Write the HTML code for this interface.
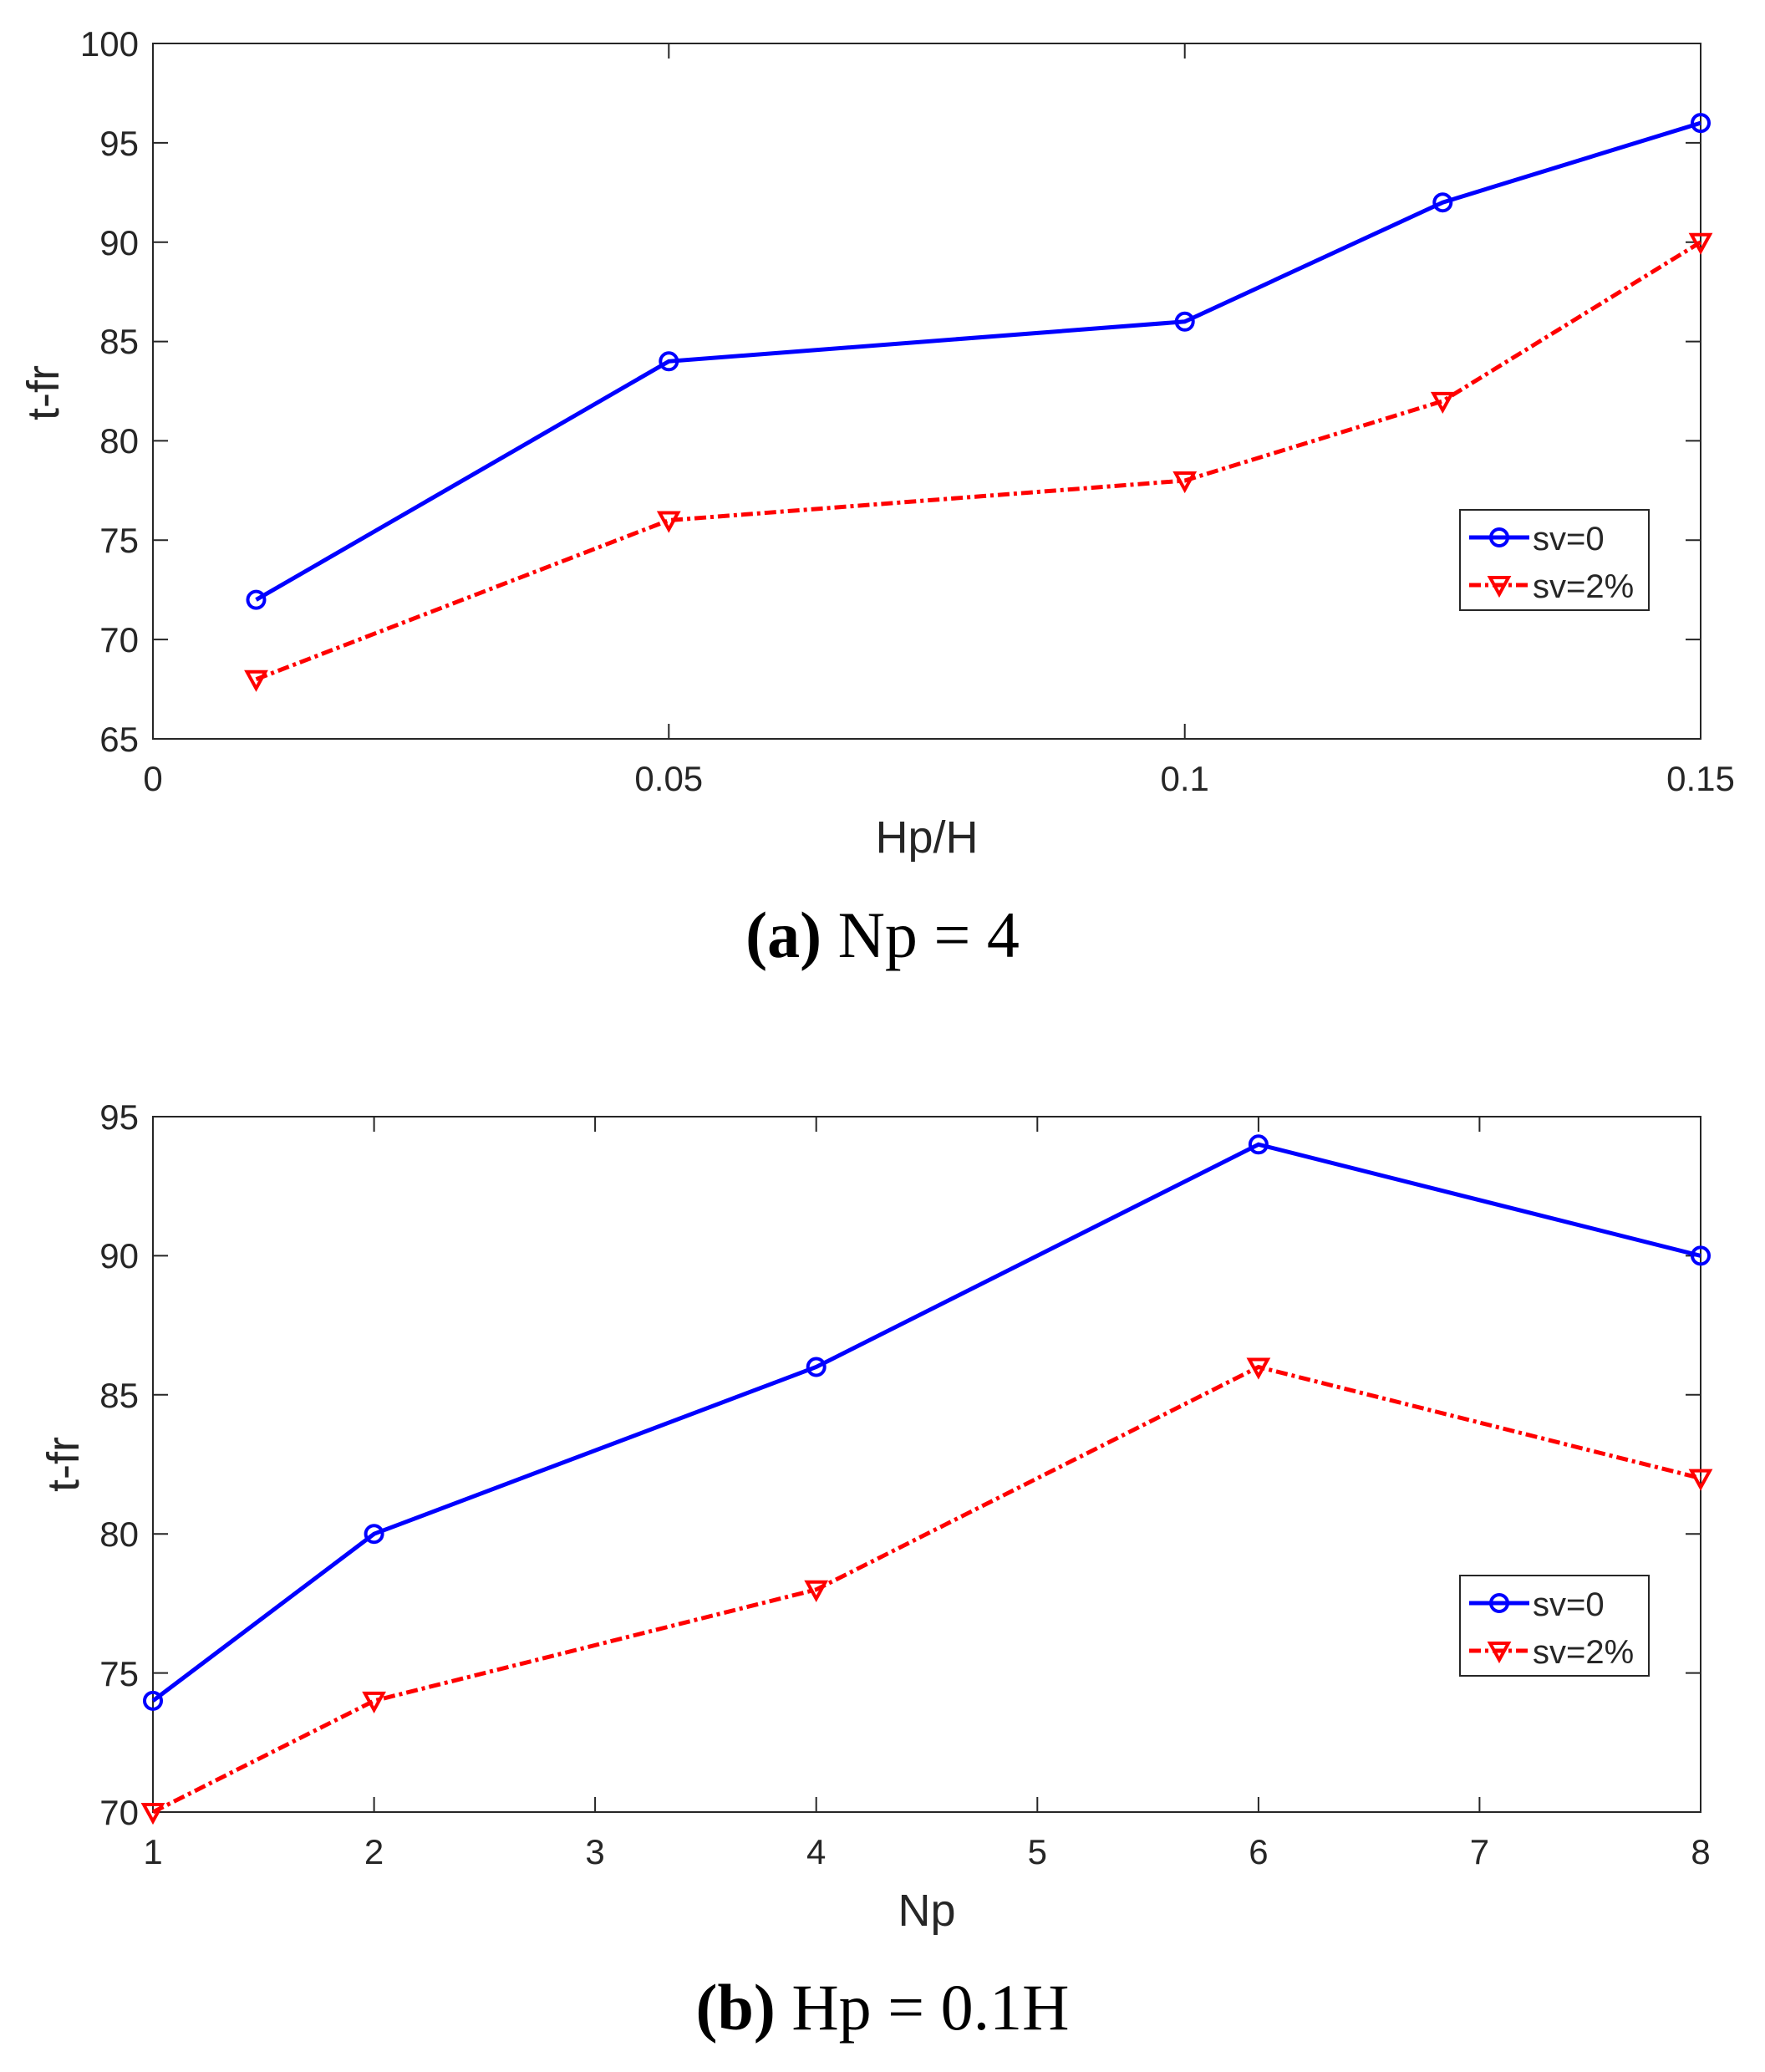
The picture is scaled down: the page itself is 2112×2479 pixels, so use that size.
<!DOCTYPE html>
<html><head><style>
html,body{margin:0;padding:0;background:#fff;}
svg{display:block;}
text{font-family:"Liberation Sans",sans-serif;fill:#262626;}
.t{font-size:42px;}
.cap{font-family:"Liberation Serif",serif;font-size:78px;fill:#000;}
</style></head><body>
<svg width="2112" height="2479" viewBox="0 0 2112 2479" xmlns="http://www.w3.org/2000/svg">
<defs>
<g id="c"><circle r="10" fill="none" stroke="#0000ff" stroke-width="4"/></g>
<g id="tr"><path d="M-11,-9 L11,-9 L0,11 Z" fill="none" stroke="#ff0000" stroke-width="4"/></g>
</defs>
<!-- TOP -->
<rect x="183" y="52" width="1852" height="832" fill="none" stroke="#262626" stroke-width="2"/>
<g stroke="#262626" stroke-width="2">
<path d="M183,765.1h18M183,646.3h18M183,527.4h18M183,408.6h18M183,289.7h18M183,170.9h18"/>
<path d="M2035,765.1h-18M2035,646.3h-18M2035,527.4h-18M2035,408.6h-18M2035,289.7h-18M2035,170.9h-18"/>
<path d="M800.3,884v-18M1417.7,884v-18M800.3,52v18M1417.7,52v18"/>
</g>
<g class="t" text-anchor="end">
<text x="166" y="899">65</text><text x="166" y="780">70</text><text x="166" y="661">75</text><text x="166" y="542">80</text><text x="166" y="423">85</text><text x="166" y="305">90</text><text x="166" y="186">95</text><text x="166" y="67">100</text>
</g>
<g class="t" text-anchor="middle">
<text x="183" y="946">0</text><text x="800.3" y="946">0.05</text><text x="1417.7" y="946">0.1</text><text x="2035" y="946">0.15</text>
</g>
<text x="1109" y="1020" font-size="54" text-anchor="middle">Hp/H</text>
<text transform="translate(70,470) rotate(-90)" font-size="54" text-anchor="middle">t-fr</text>
<polyline points="306.5,717.6 800.3,432.3 1417.7,384.8 1726.3,242.2 2035,147.1" fill="none" stroke="#0000ff" stroke-width="5"/>
<polyline points="306.5,812.7 800.3,622.5 1417.7,575 1726.3,479.9 2035,289.7" fill="none" stroke="#ff0000" stroke-width="5" stroke-dasharray="14,5,4,5"/>
<use href="#c" x="306.5" y="717.6"/><use href="#c" x="800.3" y="432.3"/><use href="#c" x="1417.7" y="384.8"/><use href="#c" x="1726.3" y="242.2"/><use href="#c" x="2035" y="147.1"/>
<use href="#tr" x="306.5" y="812.7"/><use href="#tr" x="800.3" y="622.5"/><use href="#tr" x="1417.7" y="575"/><use href="#tr" x="1726.3" y="479.9"/><use href="#tr" x="2035" y="289.7"/>
<rect x="1747" y="610" width="226" height="120" fill="#fff" stroke="#262626" stroke-width="2"/>
<path d="M1758,643h72" stroke="#0000ff" stroke-width="5"/><use href="#c" x="1794" y="643"/>
<path d="M1758,700h72" stroke="#ff0000" stroke-width="5" stroke-dasharray="14,5,4,5"/><use href="#tr" x="1794" y="700"/>
<text x="1834" y="658" font-size="40">sv=0</text><text x="1834" y="715" font-size="40">sv=2%</text>
<text x="1056" y="1145" class="cap" text-anchor="middle"><tspan font-weight="bold">(a)</tspan> Np = 4</text>

<!-- BOTTOM -->
<rect x="183" y="1336" width="1852" height="832" fill="none" stroke="#262626" stroke-width="2"/>
<g stroke="#262626" stroke-width="2">
<path d="M183,2001.6h18M183,1835.2h18M183,1668.8h18M183,1502.4h18"/>
<path d="M2035,2001.6h-18M2035,1835.2h-18M2035,1668.8h-18M2035,1502.4h-18"/>
<path d="M447.6,2168v-18M712.1,2168v-18M976.7,2168v-18M1241.3,2168v-18M1505.9,2168v-18M1770.4,2168v-18"/>
<path d="M447.6,1336v18M712.1,1336v18M976.7,1336v18M1241.3,1336v18M1505.9,1336v18M1770.4,1336v18"/>
</g>
<g class="t" text-anchor="end">
<text x="166" y="2183">70</text><text x="166" y="2017">75</text><text x="166" y="1850">80</text><text x="166" y="1684">85</text><text x="166" y="1517">90</text><text x="166" y="1351">95</text>
</g>
<g class="t" text-anchor="middle">
<text x="183" y="2230">1</text><text x="447.6" y="2230">2</text><text x="712.1" y="2230">3</text><text x="976.7" y="2230">4</text><text x="1241.3" y="2230">5</text><text x="1505.9" y="2230">6</text><text x="1770.4" y="2230">7</text><text x="2035" y="2230">8</text>
</g>
<text x="1109" y="2304" font-size="54" text-anchor="middle">Np</text>
<text transform="translate(94,1752) rotate(-90)" font-size="54" text-anchor="middle">t-fr</text>
<polyline points="183,2034.9 447.6,1835.2 976.7,1635.5 1505.9,1369.3 2035,1502.4" fill="none" stroke="#0000ff" stroke-width="5"/>
<polyline points="183,2168 447.6,2034.9 976.7,1901.8 1505.9,1635.5 2035,1768.6" fill="none" stroke="#ff0000" stroke-width="5" stroke-dasharray="14,5,4,5"/>
<use href="#c" x="183" y="2034.9"/><use href="#c" x="447.6" y="1835.2"/><use href="#c" x="976.7" y="1635.5"/><use href="#c" x="1505.9" y="1369.3"/><use href="#c" x="2035" y="1502.4"/>
<use href="#tr" x="183" y="2168"/><use href="#tr" x="447.6" y="2034.9"/><use href="#tr" x="976.7" y="1901.8"/><use href="#tr" x="1505.9" y="1635.5"/><use href="#tr" x="2035" y="1768.6"/>
<rect x="1747" y="1885" width="226" height="120" fill="#fff" stroke="#262626" stroke-width="2"/>
<path d="M1758,1918h72" stroke="#0000ff" stroke-width="5"/><use href="#c" x="1794" y="1918"/>
<path d="M1758,1975h72" stroke="#ff0000" stroke-width="5" stroke-dasharray="14,5,4,5"/><use href="#tr" x="1794" y="1975"/>
<text x="1834" y="1933" font-size="40">sv=0</text><text x="1834" y="1990" font-size="40">sv=2%</text>
<text x="1056" y="2428" class="cap" text-anchor="middle"><tspan font-weight="bold">(b)</tspan> Hp = 0.1H</text>
</svg>
</body></html>
